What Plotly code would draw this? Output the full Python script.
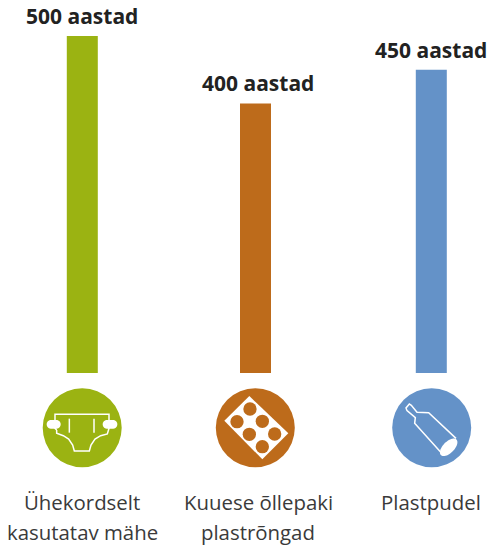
import numpy as np
import plotly.graph_objects as go

W, H = 489, 546
categories = ["Ühekordselt kasutatav mähe", "Kuuese õllepaki plastrõngad", "Plastpudel"]
label_lines = [["Ühekordselt", "kasutatav mähe"], ["Kuuese õllepaki", "plastrõngad"], ["Plastpudel"]]
years = [500, 400, 450]
value_labels = ["500 aastad", "400 aastad", "450 aastad"]
colors = ["#9BB312", "#BD6B1B", "#6492C8"]
FONT = "Open Sans"
BASE = 373
TOP_MARGIN = 0
icon_cx = [82.2, 255.3, 431.7]
icon_cy = 427.8
icon_r = 39.5
text_xshift = [0, 1.5, 0]
STEP = 174.5
BAR_W = 31 / STEP
bar_offset = [-BAR_W / 2 + 0.3 / STEP, -BAR_W / 2 - 1 / STEP, -BAR_W / 2 + 0.3 / STEP]


def px(x):
    return x / W


def py(y):
    return 1 - y / BASE


def path(points, close=True):
    s = "M" + " L".join(f"{px(x):.5f},{py(y):.5f}" for x, y in points)
    return s + (" Z" if close else "")


def circle(cx, cy, r, fill, line=None):
    return dict(type="circle", xref="paper", yref="paper", x0=px(cx - r), x1=px(cx + r),
                y0=py(cy - r), y1=py(cy + r), fillcolor=fill, line=dict(width=0), layer="above")


def poly(points, fill=None, stroke=None, width=1.5, close=True):
    return dict(type="path", xref="paper", yref="paper", path=path(points, close),
                fillcolor=fill if fill else "rgba(0,0,0,0)",
                line=dict(color=stroke if stroke else "rgba(0,0,0,0)", width=width if stroke else 0),
                layer="above")


def z(ox, pts):
    """Convert coordinates measured in the 3x crops to page pixels."""
    return [(ox + x / 3, 380 + y / 3) for x, y in pts]


def arc(cx, cy, rx, ry, a0, a1, rot=0, n=28):
    t = np.radians(np.linspace(a0, a1, n))
    x, y = rx * np.cos(t), ry * np.sin(t)
    c, s = np.cos(np.radians(rot)), np.sin(np.radians(rot))
    return list(zip(cx + x * c - y * s, cy + x * s + y * c))


def pill(x0, x1, y0, y1):
    r = (y1 - y0) / 2
    return arc(x0 + r, y0 + r, r, r, 90, 270) + arc(x1 - r, y0 + r, r, r, -90, 90)


shapes = [circle(cx, icon_cy, icon_r, c) for cx, c in zip(icon_cx, colors)]

# Nappy icon
D = 30
body = [(80, 150), (75, 145), (75, 103), (237, 103), (237, 145), (232, 162),
        (212, 167), (195, 177), (183, 195), (178, 213), (133, 213),
        (128, 195), (116, 177), (100, 167), (80, 160), (80, 150)]
shapes.append(poly(z(D, body), stroke="white", width=1.5, close=False))
shapes.append(poly(z(D, [(118, 116), (118, 158)]), stroke="white", width=1.5, close=False))
shapes.append(poly(z(D, [(192, 116), (192, 158)]), stroke="white", width=1.5, close=False))
shapes.append(poly(z(D, pill(50, 92, 120, 146)), fill="white"))
shapes.append(poly(z(D, pill(218, 262, 120, 146)), fill="white"))

# Blister pack icon
P = 205
shapes.append(poly(z(P, [(133, 48), (58, 122), (172, 238), (250, 160)]), fill="white"))
for cx_, cy_ in [(135, 87), (96, 125), (172, 124), (133, 163), (209, 162), (172, 200)]:
    shapes.append(circle(P + cx_ / 3, 380 + cy_ / 3, 20 / 3, colors[1]))

# Bottle icon
B = 382
bottle = [(222, 175), (140, 98), (105, 97), (88, 76), (82, 72), (72, 84), (75, 92),
          (100, 113), (98, 130), (175, 215)]
shapes.append(poly(z(B, bottle), stroke="white", width=1.5, close=False))
shapes.append(poly(z(B, arc(200, 202, 33, 17, 0, 360, rot=-45, n=48)), fill="white"))

annotations = []
for i, (v, t) in enumerate(zip(years, value_labels)):
    annotations.append(dict(x=i, y=v, xref="x", yref="y", text=f"<b>{t}</b>", showarrow=False,
                            xanchor="center", yanchor="bottom", yshift=4, xshift=text_xshift[i],
                            font=dict(family=FONT, size=21, color="#222222")))
for i, lines in enumerate(label_lines):
    for j, line in enumerate(lines):
        annotations.append(dict(x=i, y=py(502 + 30 * j), xref="x", yref="paper", text=line,
                                showarrow=False, xanchor="center", yanchor="middle",
                                xshift=text_xshift[i],
                                font=dict(family=FONT, size=20.4, color="#3a3a3a")))

fig = go.Figure(go.Bar(x=categories, y=years, marker=dict(color=colors, line=dict(width=0)),
                       width=BAR_W, offset=bar_offset, hoverinfo="skip"))
fig.update_layout(
    width=W, height=H, autosize=False, showlegend=False,
    margin=dict(l=0, r=0, t=TOP_MARGIN, b=H - BASE),
    paper_bgcolor="white", plot_bgcolor="white",
    shapes=shapes, annotations=annotations,
    xaxis=dict(range=[-82 / STEP, (W - 82) / STEP], showticklabels=False, ticks="",
               showgrid=False, zeroline=False, showline=False),
    yaxis=dict(range=[0, BASE / 0.674], visible=False),
)
fig.write_html("out.html", config=dict(displayModeBar=False),
               post_script="document.body.style.margin='0';document.documentElement.style.overflow='hidden';")
